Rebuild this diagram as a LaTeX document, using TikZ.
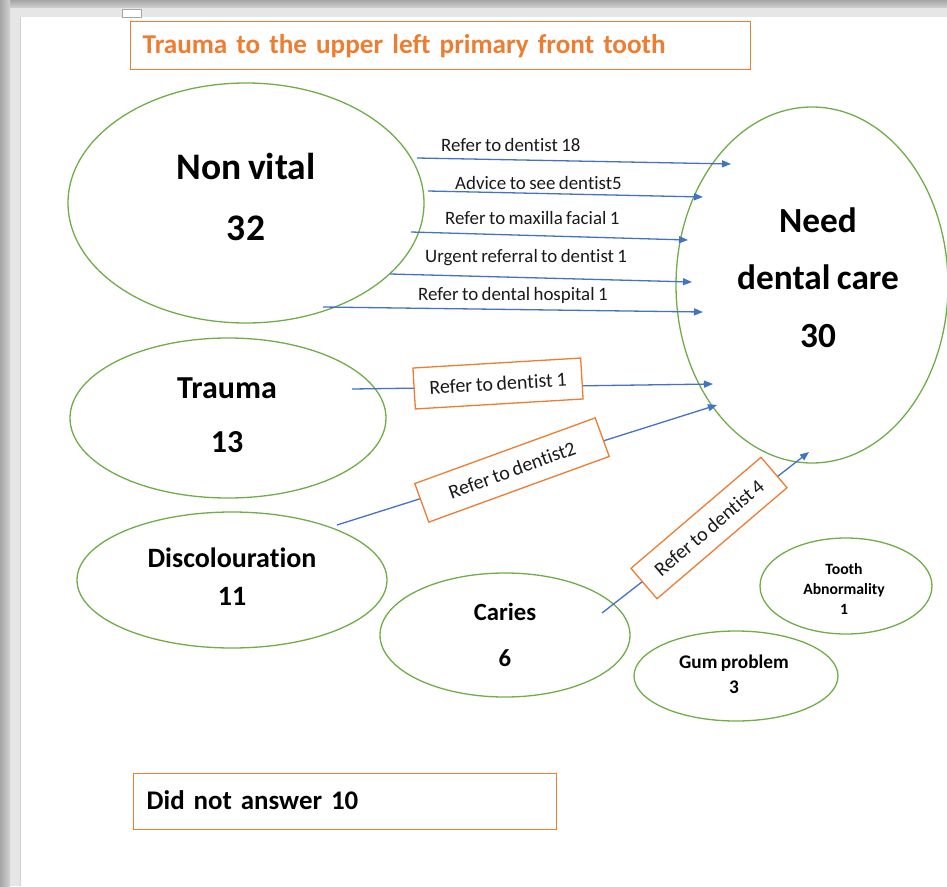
\documentclass[tikz,border=0pt]{standalone}
\usepackage{fontspec}
\setmainfont{Carlito}[Ligatures={NoCommon}, WordSpace={0.8}]
\usetikzlibrary{shapes.geometric,arrows.meta}

\newcommand\boldface[2]{\bfseries\fontsize{#1}{#2}\selectfont}

\definecolor{leaf}{HTML}{70AD47}
\definecolor{tang}{HTML}{ED7D31}
\definecolor{flow}{HTML}{4472C4}
\definecolor{ink}{HTML}{1A1A1A}
\definecolor{paneldark}{HTML}{A6A6A6}
\definecolor{panellight}{HTML}{E6E6E6}

\tikzset{
  bubble/.style={ellipse, draw=leaf, line width=1.3pt, inner sep=0pt},
  bubbletext/.style={anchor=base, align=center, inner sep=0pt, text=black},
  flowline/.style={draw=flow, line width=1.3pt, -{Triangle[length=9pt,width=7pt]}},
  flowtag/.style={anchor=base west, inner sep=0pt, text=ink, font=\fontsize{18.9}{21}\selectfont},
  tagbox/.style={draw=tang, line width=1.3pt, fill=white, inner sep=0pt, text=ink,
    font=\fontsize{20}{22}\selectfont},
  framebox/.style={draw=tang, line width=1.4pt, anchor=north west, inner ysep=0pt,
    inner xsep=12pt, align=left}
}

\begin{document}
\begin{tikzpicture}[x=1pt,y=-1pt]
\useasboundingbox (0,0) rectangle (947,886);
\clip (0,0) rectangle (947,886);

% page and window frame
\fill[white] (0,0) rectangle (947,886);
\shade[top color=paneldark, bottom color=panellight!80!gray] (0,0) rectangle (947,8);
\fill[panellight] (10,8) rectangle (947,17);
\fill[panellight] (10,8) rectangle (21,886);
\shade[left color=paneldark, right color=panellight!80!gray] (0,0) rectangle (10,886);
\fill[gray!35] (20,17) rectangle (21,886);
\draw[gray!70, fill=white, line width=0.8pt] (122.5,9) rectangle (141.5,17);

% title
\node[framebox, minimum width=620, minimum height=48, text width=596,
      font=\boldface{27.2}{30}, text=tang] (title) at (130,21)
      {Trauma to the upper left primary front tooth};

% ellipses
\node[bubble, minimum width=356, minimum height=240] (nonvital) at (246,203) {};
\node[bubble, minimum width=272, minimum height=356] (care) at (812,285) {};
\node[bubble, minimum width=316, minimum height=160] (trauma) at (228,418) {};
\node[bubble, minimum width=310, minimum height=136] (discol) at (232,580) {};
\node[bubble, minimum width=250, minimum height=124] (caries) at (505,635) {};
\node[bubble, minimum width=172, minimum height=96] (abnorm) at (846,586) {};
\node[bubble, minimum width=204, minimum height=90] (gum) at (736,676) {};

% ellipse texts (anchored at the baseline of the last line)
\node[bubbletext, font=\boldface{37.5}{61}] (nonvitaltext) at (246,240) {Non vital\\32};
\node[bubbletext, font=\boldface{35.3}{57.5}] (caretext) at (818,347) {Need\\dental care\\30};
\node[bubbletext, font=\boldface{32}{54}] (traumatext) at (227,452) {Trauma\\13};
\node[bubbletext, font=\boldface{28}{38}] (discoltext) at (232,605) {Discolouration\\11};
\node[bubbletext, font=\boldface{24.7}{46}] (cariestext) at (505,666) {Caries\\6};
\node[bubbletext, font=\boldface{15.7}{20}] (abnormtext) at (844,614) {Tooth\\Abnormality\\1};
\node[bubbletext, font=\boldface{19.3}{25}] (gumtext) at (734,693) {Gum problem\\3};

% arrow end points
\coordinate (a1s) at (417,158); \coordinate (a1e) at (731,164);
\coordinate (a2s) at (428,191); \coordinate (a2e) at (703,197);
\coordinate (a3s) at (411,232); \coordinate (a3e) at (688,240);
\coordinate (a4s) at (390,274); \coordinate (a4e) at (692,282);
\coordinate (a5s) at (323,307); \coordinate (a5e) at (703,312);
\coordinate (a6s) at (352,389); \coordinate (a6e) at (713,384);
\coordinate (a7s) at (337,525); \coordinate (a7e) at (717,405);
\coordinate (a8s) at (602,613); \coordinate (a8e) at (809,452);

% non vital referrals
\draw[flowline] (a1s) -- (a1e);
\draw[flowline] (a2s) -- (a2e);
\draw[flowline] (a3s) -- (a3e);
\draw[flowline] (a4s) -- (a4e);
\draw[flowline] (a5s) -- (a5e);
\node[flowtag] (t1) at (441,151) {Refer to dentist 18};
\node[flowtag] (t2) at (455,189) {Advice to see dentist5};
\node[flowtag] (t3) at (445,224) {Refer to maxilla facial 1};
\node[flowtag] (t4) at (425,262) {Urgent referral to dentist 1};
\node[flowtag] (t5) at (418,300) {Refer to dental hospital 1};

% boxed referrals
\draw[flowline] (a6s) -- (a6e);
\draw[flowline] (a7s) -- (a7e);
\draw[flowline] (a8s) -- (a8e);
\node[tagbox, minimum width=168, minimum height=41, rotate=3.4] (b6) at (498,383.5) {Refer to dentist 1};
\node[tagbox, minimum width=192, minimum height=41, rotate=20] (b7) at (512,470) {Refer to dentist2};
\node[tagbox, minimum width=171, minimum height=40, rotate=40.5] (b8) at (709,528) {Refer to dentist 4};

% no answer
\node[framebox, minimum width=423, minimum height=56, text width=397,
      font=\boldface{26.9}{30}, text=black] (noanswer) at (133,773)
      {\raisebox{3pt}{Did not answer 10}};
\end{tikzpicture}
\end{document}
